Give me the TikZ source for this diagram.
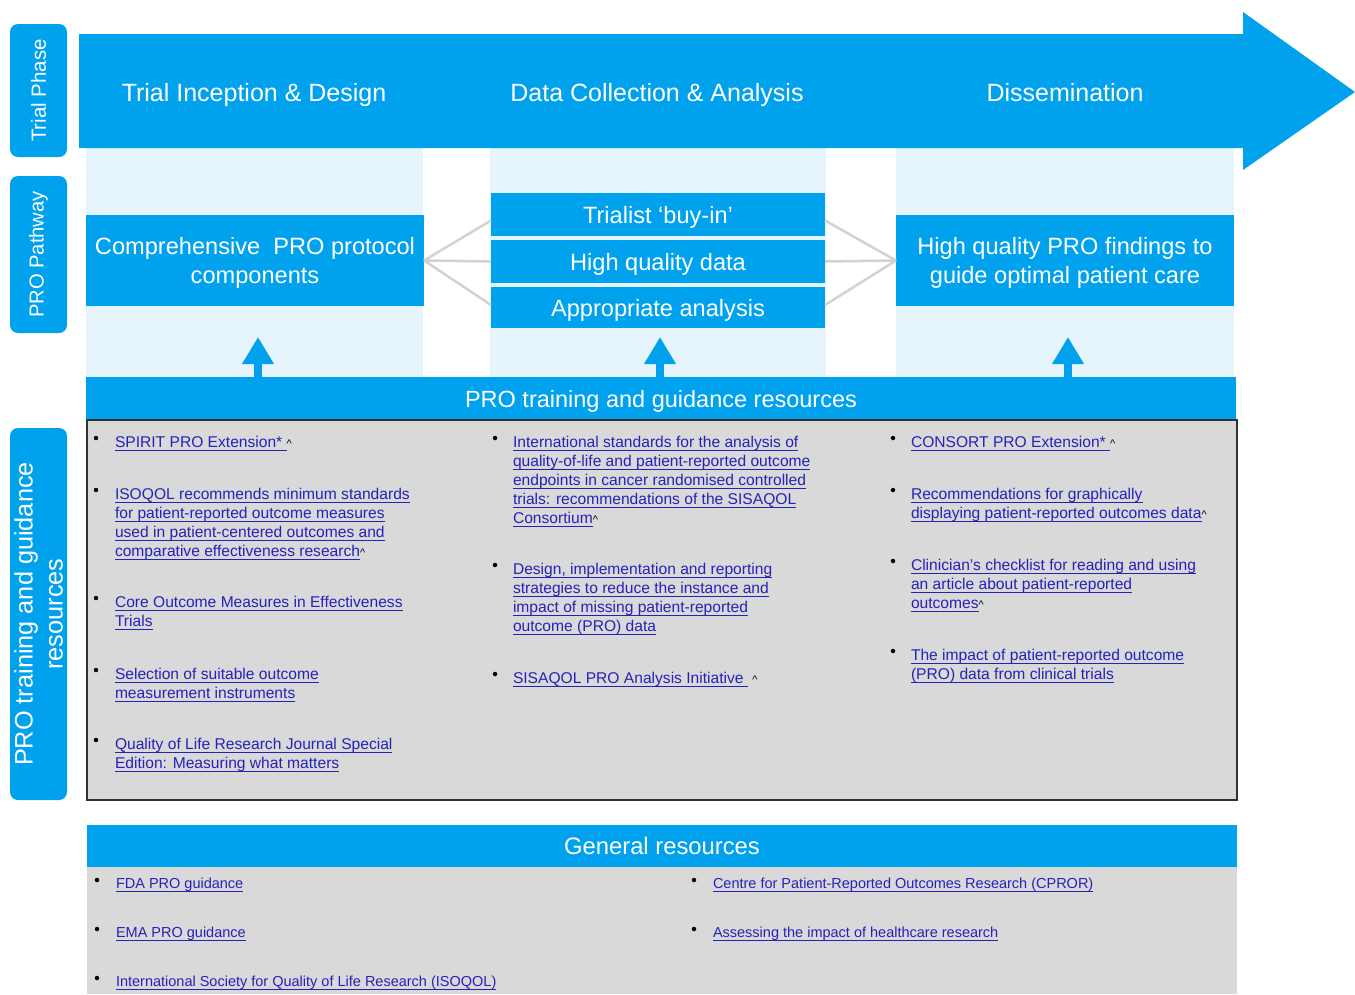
\documentclass[tikz,border=0pt]{standalone}
\usepackage{fontspec}
\setmainfont{Liberation Sans}
\usetikzlibrary{arrows.meta}
\definecolor{mblue}{RGB}{0,162,237}
\definecolor{lblue}{RGB}{230,244,252}
\definecolor{pgray}{RGB}{217,217,217}
\definecolor{cgray}{RGB}{210,210,210}
\definecolor{linkc}{RGB}{35,35,185}
\definecolor{bordc}{RGB}{50,50,50}
\newcommand\lk[1]{\setbox0\hbox{#1}\rlap{\rule[-3pt]{\wd0}{0.9pt}}\box0}
\newcommand\crt{{\color{black}\raisebox{0.5pt}{\fontsize{11}{11}\selectfont\textasciicircum}}}
\begin{document}
\begin{tikzpicture}[x=1pt,y=-1pt,
  every node/.style={inner sep=0pt,outer sep=0pt},
  panel/.style={fill=lblue,minimum width=#1,minimum height=229pt},
  bluebox/.style={fill=mblue,text=white,font=\fontsize{23.6}{29}\selectfont,align=center,text depth=0pt},
  vlab/.style={fill=mblue,rounded corners=8pt,rotate=90,text=white,minimum height=57pt,align=center},
  head/.style={text=white,font=\fontsize{25}{28}\selectfont,text depth=0pt},
  item/.style={anchor=north west,align=left,text=linkc,font=\fontsize{15.6}{19}\selectfont},
  gitem/.style={item,font=\fontsize{14.5}{19}\selectfont},
  bul/.style={circle,fill=black,minimum size=4.5pt},
  conn/.style={draw=cgray,line width=2.5pt},
  uparr/.style={draw=mblue,line width=8pt,-{Triangle[width=30pt,length=27pt]}},
  graybox/.style={fill=pgray,minimum width=1150pt}
]
\useasboundingbox (0,0) rectangle (1355,994);

% light blue column panels
\node[panel=337pt] (pL) at (254.5,262.5) {};
\node[panel=336pt] (pM) at (658,262.5) {};
\node[panel=338pt] (pR) at (1065,262.5) {};

% big phase arrow
\fill[mblue] (79,34) -- (1243,34) -- (1243,12) -- (1355,92) -- (1243,170) -- (1243,148) -- (79,148) -- cycle;
\node[head] (h1) at (254,92) {Trial Inception \& Design};
\node[head] (h2) at (657,92) {Data Collection \& Analysis};
\node[head] (h3) at (1065,92) {Dissemination};

% left labels
\node[vlab,minimum width=133pt,font=\fontsize{20.5}{22}\selectfont] (lab1) at (38.5,90.5) {Trial Phase};
\node[vlab,minimum width=157pt,font=\fontsize{20.2}{22}\selectfont] (lab2) at (38.5,254.5) {PRO Pathway};
\node[vlab,minimum width=372pt,font=\fontsize{25.3}{30}\selectfont] (lab3) at (38.5,614) {PRO training and guidance\\resources};

% pathway boxes
\node[bluebox,minimum width=338pt,minimum height=91pt] (leftbox) at (255,260.5) {Comprehensive\ \ PRO protocol\\components};
\node[bluebox,minimum width=334pt,minimum height=43pt] (mid1) at (658,214.5) {Trialist `buy-in'};
\node[bluebox,minimum width=334pt,minimum height=43pt] (mid2) at (658,261.5) {High quality data};
\node[bluebox,minimum width=334pt,minimum height=41pt] (mid3) at (658,307.5) {Appropriate analysis};
\node[bluebox,minimum width=338pt,minimum height=91pt] (rightbox) at (1065,260.5) {High quality PRO findings to\\guide optimal patient care};

% connectors
\draw[conn] (leftbox.east) -- ([yshift=-6pt]mid1.west);
\draw[conn] (leftbox.east) -- (mid2.west);
\draw[conn] (leftbox.east) -- ([yshift=2.5pt]mid3.west);
\draw[conn] ([yshift=-6pt]mid1.east) -- (rightbox.west);
\draw[conn] (mid2.east) -- (rightbox.west);
\draw[conn] ([yshift=2.5pt]mid3.east) -- (rightbox.west);

% training bar
\node[fill=mblue,minimum width=1150pt,minimum height=43pt,text=white,font=\fontsize{23.5}{26}\selectfont,text depth=0pt] (trainbar) at (661,398.5) {PRO training and guidance resources};
\coordinate (aL) at (258,337);
\coordinate (aM) at (660,337);
\coordinate (aR) at (1068,337);
\draw[uparr] (trainbar.north -| aL) -- (aL);
\draw[uparr] (trainbar.north -| aM) -- (aM);
\draw[uparr] (trainbar.north -| aR) -- (aR);

% resource panel
\node[graybox,minimum height=380pt,draw=bordc,line width=1.2pt] (respanel) at (662,610) {};

% left column
\node[bul] (bl1) at (96,438) {};
\node[item] (tl1) at (115,436.5) {\lk{SPIRIT PRO Extension*\ }\crt};
\node[bul] (bl2) at (96,490) {};
\node[item] (tl2) at (115,488.5) {\lk{ISOQOL recommends minimum standards}\\\lk{for patient-reported outcome measures}\\\lk{used in patient-centered outcomes and}\\\lk{comparative effectiveness research}\crt};
\node[bul] (bl3) at (96,598) {};
\node[item] (tl3) at (115,596.5) {\lk{Core Outcome Measures in Effectiveness}\\\lk{Trials}};
\node[bul] (bl4) at (96,670) {};
\node[item] (tl4) at (115,668.5) {\lk{Selection of suitable outcome}\\\lk{measurement instruments}};
\node[bul] (bl5) at (96,740) {};
\node[item] (tl5) at (115,738.5) {\lk{Quality of Life Research Journal Special}\\\lk{Edition: Measuring what matters}};

% middle column
\node[bul] (bm1) at (495,438) {};
\node[item] (tm1) at (513,436.5) {\lk{International standards for the analysis of}\\\lk{quality-of-life and patient-reported outcome}\\\lk{endpoints in cancer randomised controlled}\\\lk{trials: recommendations of the SISAQOL}\\\lk{Consortium}\crt};
\node[bul] (bm2) at (495,565) {};
\node[item] (tm2) at (513,563.5) {\lk{Design, implementation and reporting}\\\lk{strategies to reduce the instance and}\\\lk{impact of missing patient-reported}\\\lk{outcome (PRO) data}};
\node[bul] (bm3) at (495,674) {};
\node[item] (tm3) at (513,672.5) {\lk{SISAQOL PRO Analysis Initiative\ }\ \crt};

% right column
\node[bul] (br1) at (893,438) {};
\node[item] (tr1) at (911,436.5) {\lk{CONSORT PRO Extension*\ }\crt};
\node[bul] (br2) at (893,490) {};
\node[item] (tr2) at (911,488.5) {\lk{Recommendations for graphically}\\\lk{displaying patient-reported outcomes data}\crt};
\node[bul] (br3) at (893,561) {};
\node[item] (tr3) at (911,559.5) {\lk{Clinician's checklist for reading and using}\\\lk{an article about patient-reported}\\\lk{outcomes}\crt};
\node[bul] (br4) at (893,651) {};
\node[item] (tr4) at (911,649.5) {\lk{The impact of patient-reported outcome}\\\lk{(PRO) data from clinical trials}};

% general resources
\node[fill=mblue,minimum width=1150pt,minimum height=42pt,text=white,font=\fontsize{23.8}{26}\selectfont,text depth=0pt] (genbar) at (662,846) {General resources};
\node[graybox,minimum height=127pt] (genpanel) at (662,930.5) {};
\node[bul] (bg1) at (97,880) {};
\node[gitem] (tg1) at (116,878) {\lk{FDA PRO guidance}};
\node[bul] (bg2) at (97,929) {};
\node[gitem] (tg2) at (116,927) {\lk{EMA PRO guidance}};
\node[bul] (bg3) at (97,978) {};
\node[gitem] (tg3) at (116,976) {\lk{International Society for Quality of Life Research (ISOQOL)}};
\node[bul] (bg4) at (694,880) {};
\node[gitem] (tg4) at (713,878) {\lk{Centre for Patient-Reported Outcomes Research (CPROR)}};
\node[bul] (bg5) at (694,929) {};
\node[gitem] (tg5) at (713,927) {\lk{Assessing the impact of healthcare research}};
\end{tikzpicture}
\end{document}
